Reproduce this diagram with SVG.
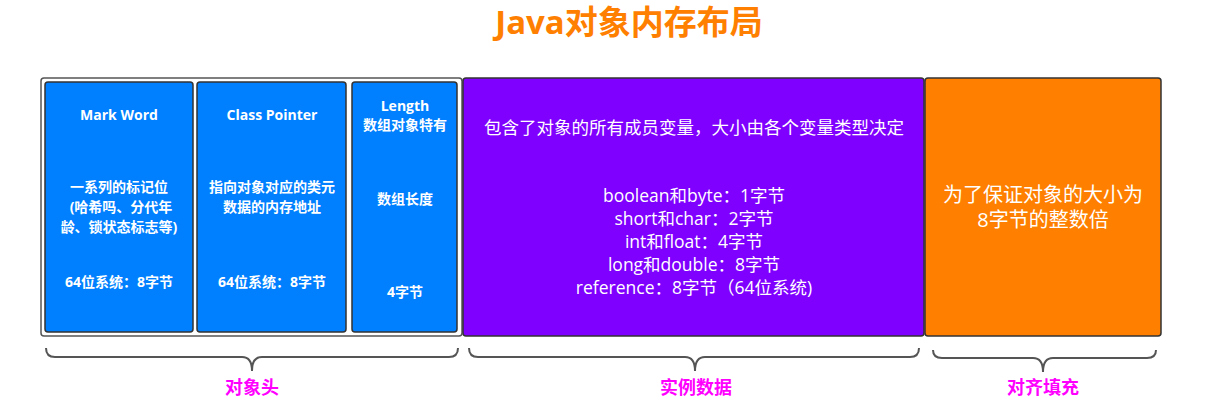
<svg xmlns="http://www.w3.org/2000/svg" width="1231" height="405" viewBox="0 0 1231 405">
<style>
text{font-family:"Open Sans","Noto Sans CJK SC","Microsoft YaHei",sans-serif;text-anchor:middle;fill:#fff}
.b{font-weight:bold;font-size:14px}
.p{font-size:17.5px}
.o{font-size:20px}
.lab{font-weight:bold;font-size:18px;fill:#FF00FF}
.box{stroke:#333;stroke-width:1.5}
.brace{fill:none;stroke:#555;stroke-width:2}
</style>
<rect width="1231" height="405" fill="#fff"/>
<text x="629" y="34" style="font-size:33px;font-weight:bold;fill:#FF8000">Java对象内存布局</text>
<g id="header">
<rect x="41" y="78" width="421" height="258" rx="3" fill="#fff" stroke="#555" stroke-width="1.5"/>
</g>
<g id="markword">
<rect class="box" x="45" y="82" width="148" height="250" rx="3" fill="#007FFF"/>
<text class="b" x="119" y="120">Mark Word</text>
<text class="b" x="119" y="192">一系列的标记位</text>
<text class="b" x="121" y="212">(哈希吗、分代年</text>
<text class="b" x="119" y="232">龄、锁状态标志等)</text>
<text class="b" x="119" y="287">64位系统：8字节</text>
</g>
<g id="classpointer">
<rect class="box" x="197" y="82" width="149" height="250" rx="3" fill="#007FFF"/>
<text class="b" x="272" y="120">Class Pointer</text>
<text class="b" x="272" y="192">指向对象对应的类元</text>
<text class="b" x="272" y="212">数据的内存地址</text>
<text class="b" x="272" y="287">64位系统：8字节</text>
</g>
<g id="length">
<rect class="box" x="352" y="82" width="105" height="250" rx="3" fill="#007FFF"/>
<text class="b" x="405" y="111">Length</text>
<text class="b" x="405" y="130">数组对象特有</text>
<text class="b" x="405" y="204">数组长度</text>
<text class="b" x="405" y="297">4字节</text>
</g>
<g id="instance">
<rect class="box" x="463" y="78" width="461" height="258" rx="3" fill="#7F00FF"/>
<text class="p" x="694" y="134">包含了对象的所有成员变量，大小由各个变量类型决定</text>
<text class="p" x="694" y="202">boolean和byte：1字节</text>
<text class="p" x="694" y="225">short和char：2字节</text>
<text class="p" x="694" y="248">int和float：4字节</text>
<text class="p" x="694" y="271">long和double：8字节</text>
<text class="p" x="694" y="294">reference：8字节（64位系统)</text>
</g>
<g id="padding">
<rect class="box" x="925" y="78" width="236" height="258" rx="3" fill="#FF8000"/>
<text class="o" x="1043" y="202">为了保证对象的大小为</text>
<text class="o" x="1043" y="227">8字节的整数倍</text>
</g>
<g id="connectors">
<path class="brace" d="M46,348 q0,9 9,9 H242 q10,0 10,14 q0,-14 10,-14 H449 q9,0 9,-9"/>
<path class="brace" d="M469,348 q0,9 9,9 H685 q10,0 10,14 q0,-14 10,-14 H910 q9,0 9,-9"/>
<path class="brace" d="M933,350 q0,8 9,8 H1033 q10,0 10,14 q0,-14 10,-14 H1147 q9,0 9,-8"/>
</g>
<text class="lab" x="252" y="394">对象头</text>
<text class="lab" x="696" y="394">实例数据</text>
<text class="lab" x="1043" y="394">对齐填充</text>
</svg>
